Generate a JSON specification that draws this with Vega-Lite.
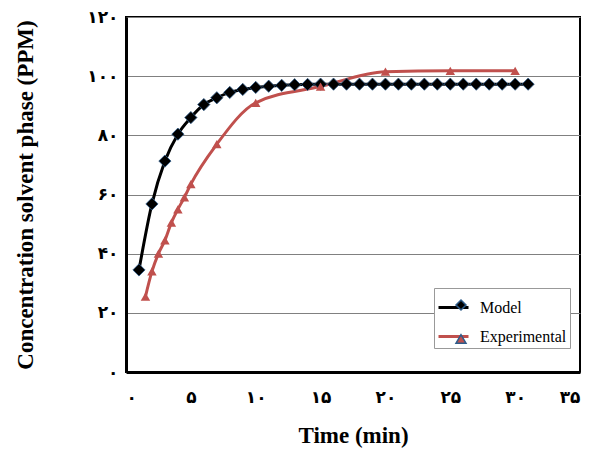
{
  "$schema": "https://vega.github.io/schema/vega-lite/v6.json",
  "width": 454,
  "height": 355,
  "autosize": "none",
  "padding": {"left": 126, "top": 17, "right": 19, "bottom": 81},
  "background": "white",
  "config": {
    "view": {"stroke": "#000000", "strokeWidth": 2},
    "font": "Liberation Serif",
    "legend": {"labelFont": "Times New Roman, Liberation Serif, serif"}
  },
  "data": {
    "values": [
      {"series": "Model", "t": 1, "c": 34.5},
      {"series": "Model", "t": 2, "c": 56.8},
      {"series": "Model", "t": 3, "c": 71.3},
      {"series": "Model", "t": 4, "c": 80.4},
      {"series": "Model", "t": 5, "c": 86.0},
      {"series": "Model", "t": 6, "c": 90.4},
      {"series": "Model", "t": 7, "c": 92.7},
      {"series": "Model", "t": 8, "c": 94.5},
      {"series": "Model", "t": 9, "c": 95.5},
      {"series": "Model", "t": 10, "c": 96.2},
      {"series": "Model", "t": 11, "c": 96.6},
      {"series": "Model", "t": 12, "c": 96.9},
      {"series": "Model", "t": 13, "c": 97.1},
      {"series": "Model", "t": 14, "c": 97.2},
      {"series": "Model", "t": 15, "c": 97.3},
      {"series": "Model", "t": 16, "c": 97.3},
      {"series": "Model", "t": 17, "c": 97.3},
      {"series": "Model", "t": 18, "c": 97.3},
      {"series": "Model", "t": 19, "c": 97.3},
      {"series": "Model", "t": 20, "c": 97.3},
      {"series": "Model", "t": 21, "c": 97.3},
      {"series": "Model", "t": 22, "c": 97.3},
      {"series": "Model", "t": 23, "c": 97.3},
      {"series": "Model", "t": 24, "c": 97.3},
      {"series": "Model", "t": 25, "c": 97.3},
      {"series": "Model", "t": 26, "c": 97.3},
      {"series": "Model", "t": 27, "c": 97.3},
      {"series": "Model", "t": 28, "c": 97.3},
      {"series": "Model", "t": 29, "c": 97.3},
      {"series": "Model", "t": 30, "c": 97.3},
      {"series": "Model", "t": 31, "c": 97.3},
      {"series": "Experimental", "t": 1.5, "c": 25.5},
      {"series": "Experimental", "t": 2, "c": 34},
      {"series": "Experimental", "t": 2.5, "c": 40},
      {"series": "Experimental", "t": 3, "c": 44.5},
      {"series": "Experimental", "t": 3.5, "c": 50.5},
      {"series": "Experimental", "t": 4, "c": 55},
      {"series": "Experimental", "t": 4.5, "c": 59},
      {"series": "Experimental", "t": 5, "c": 63.5},
      {"series": "Experimental", "t": 7, "c": 77},
      {"series": "Experimental", "t": 10, "c": 91},
      {"series": "Experimental", "t": 15, "c": 96.5},
      {"series": "Experimental", "t": 20, "c": 101.5},
      {"series": "Experimental", "t": 25, "c": 101.8},
      {"series": "Experimental", "t": 30, "c": 101.8}
    ]
  },
  "encoding": {
    "x": {
      "field": "t",
      "type": "quantitative",
      "scale": {"domain": [0, 35], "nice": false},
      "axis": {
        "title": "Time (min)",
        "values": [0, 5, 10, 15, 20, 25, 30, 35],
        "grid": false,
        "ticks": false,
        "domainColor": "#000000",
        "domainWidth": 3,
        "labelFont": "DejaVu Sans",
        "labelFontWeight": "bold",
        "labelFontSize": 17,
        "labelColor": "#000000",
        "labelPadding": 17,
        "labelExpr": "replace(replace(replace(replace(replace(replace(replace(replace(replace(replace(datum.label, regexp('0','g'), '۰'), regexp('1','g'), '۱'), regexp('2','g'), '۲'), regexp('3','g'), '۳'), regexp('4','g'), '۴'), regexp('5','g'), '۵'), regexp('6','g'), '۶'), regexp('7','g'), '۷'), regexp('8','g'), '۸'), regexp('9','g'), '۹')",
        "titleFont": "Liberation Serif",
        "titleFontWeight": "bold",
        "titleFontSize": 23,
        "titleColor": "#000000",
        "titlePadding": 19
      }
    },
    "y": {
      "field": "c",
      "type": "quantitative",
      "scale": {"domain": [0, 120], "nice": false},
      "axis": {
        "title": "Concentration solvent phase (PPM)",
        "values": [0, 20, 40, 60, 80, 100, 120],
        "grid": true,
        "gridColor": "#808080",
        "gridWidth": 1,
        "ticks": false,
        "domainColor": "#000000",
        "domainWidth": 3,
        "labelFont": "DejaVu Sans",
        "labelFontWeight": "bold",
        "labelFontSize": 17,
        "labelColor": "#000000",
        "labelPadding": 8,
        "labelExpr": "replace(replace(replace(replace(replace(replace(replace(replace(replace(replace(datum.label, regexp('0','g'), '۰'), regexp('1','g'), '۱'), regexp('2','g'), '۲'), regexp('3','g'), '۳'), regexp('4','g'), '۴'), regexp('5','g'), '۵'), regexp('6','g'), '۶'), regexp('7','g'), '۷'), regexp('8','g'), '۸'), regexp('9','g'), '۹')",
        "titleFont": "Liberation Serif",
        "titleFontWeight": "bold",
        "titleFontSize": 23,
        "titleColor": "#000000",
        "titlePadding": 49
      }
    }
  },
  "layer": [
    {
      "mark": {"type": "line", "interpolate": "monotone", "strokeWidth": 3},
      "encoding": {
        "stroke": {
          "field": "series",
          "type": "nominal",
          "sort": ["Model", "Experimental"],
          "scale": {"range": ["#000000", "#C0504D"]},
          "legend": {
            "title": null,
            "orient": "none",
            "legendX": 308,
            "legendY": 271,
            "padding": 3,
            "strokeColor": "#999999",
            "fillColor": "#FFFFFF",
            "labelFont": "Times New Roman, Liberation Serif, serif",
            "labelFontSize": 16,
            "labelColor": "#000000",
            "labelOffset": 10,
            "rowPadding": 4,
            "symbolType": "stroke",
            "symbolSize": 900,
            "symbolStrokeWidth": 3
          }
        }
      }
    },
    {
      "transform": [{"filter": "datum.series === 'Model'"}],
      "mark": {"type": "point", "filled": true, "opacity": 1, "size": 150, "stroke": "#2E5C8A", "strokeWidth": 0.8},
      "encoding": {
        "color": {
          "field": "series",
          "type": "nominal",
          "scale": {"domain": ["Model", "Experimental"], "range": ["#000000", "#C0504D"]},
          "legend": {
            "title": null,
            "orient": "none",
            "legendX": 317,
            "legendY": 270,
            "padding": 3,
            "labelFontSize": 30,
            "labelExpr": "''",
            "rowPadding": 4,
            "symbolSize": 100,
            "symbolOpacity": 1
          }
        },
        "shape": {
          "field": "series",
          "type": "nominal",
          "scale": {"domain": ["Model", "Experimental"], "range": ["diamond", "triangle-up"]}
        }
      }
    },
    {
      "transform": [{"filter": "datum.series === 'Experimental'"}],
      "mark": {"type": "point", "filled": true, "opacity": 1, "size": 90},
      "encoding": {
        "color": {
          "field": "series",
          "type": "nominal",
          "scale": {"domain": ["Model", "Experimental"], "range": ["#000000", "#C0504D"]}
        },
        "shape": {
          "field": "series",
          "type": "nominal",
          "scale": {"domain": ["Model", "Experimental"], "range": ["diamond", "triangle-up"]}
        }
      }
    }
  ]
}
